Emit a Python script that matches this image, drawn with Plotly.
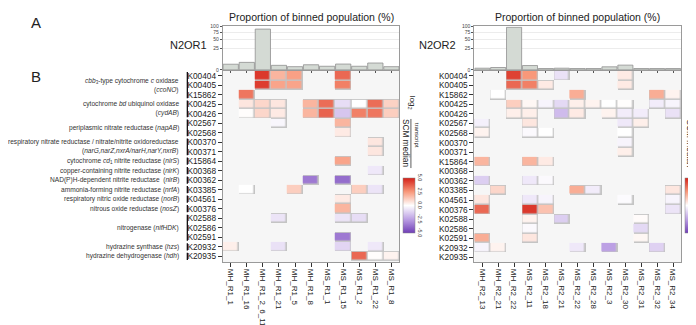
import numpy as np
import plotly.graph_objects as go

# ---------------- data ----------------
kos = ["K00404", "K00405", "K15862", "K00425", "K00426", "K02567", "K02568",
       "K00370", "K00371", "K15864", "K00368", "K00362", "K03385", "K04561",
       "K00376", "K02588", "K02586", "K02591", "K20932", "K20935"]

samples_r1 = ["MH_R1_1", "MH_R1_16", "MH_R1_2_6_11", "MH_R1_21", "MH_R1_5", "MH_R1_8",
              "MS_R1_1", "MS_R1_15", "MS_R1_2", "MS_R1_22", "MS_R1_8"]
samples_r2 = ["MH_R2_13", "MH_R2_21", "MH_R2_22", "MS_R2_11", "MS_R2_18", "MS_R2_21",
              "MS_R2_22", "MS_R2_28", "MS_R2_3", "MS_R2_30", "MS_R2_31", "MS_R2_32", "MS_R2_34"]

binned_r1 = [1.7, 3.0, 88.0, 1.1, 0.55, 1.4, 0.7, 1.8, 0.7, 2.5, 0.55]
binned_r2 = [0.15, 0.3, 96.0, 1.0, 0.1, 0.15, 0.1, 0.1, 0.5, 1.2, 0.1, 0.1, 0.1]

_ = None
# log2(transcript / SCM median), rows = kos, cols = samples_r1
expr_r1 = [
    [_, _, 4.5, 1.8, 2.3, _, _, 3.5, _, _, _],
    [_, _, 4.4, 2.2, 2.2, _, _, 3.0, _, _, _],
    [_, 3.2, _, _, _, _, _, _, _, _, _],
    [_, 0.6, 1.0, 0.6, _, 1.8, 3.4, -0.9, 0.0, 3.4, 1.1],
    [_, 0.05, 1.0, 0.5, _, 1.8, 3.6, -1.5, 3.0, 3.2, 1.2],
    [_, _, _, -0.25, _, _, _, 1.8, _, _, _],
    [_, _, _, _, _, _, _, 0.5, _, _, _],
    [_, _, _, _, _, _, _, _, _, 0.6, _],
    [_, _, _, _, _, _, _, _, _, 0.6, _],
    [_, _, _, _, _, _, _, 2.2, _, _, _],
    [_, _, _, _, _, _, _, _, _, -0.6, _],
    [_, _, _, _, _, -3.5, _, -3.8, _, _, _],
    [_, 0.0, _, _, 1.2, _, _, _, 1.2, -0.7, _],
    [_, _, _, _, _, _, _, 0.5, _, _, _],
    [_, _, _, _, _, _, _, 1.8, _, _, _],
    [_, _, _, -0.7, _, _, _, -0.7, -0.9, _, _],
    [_, _, _, _, _, _, _, _, _, _, _],
    [_, _, _, _, _, _, _, -3.5, _, _, _],
    [0.4, _, _, -0.8, _, _, _, -1.1, _, -0.6, _],
    [_, _, _, _, _, _, _, _, 3.5, 0.05, 0.3],
]
# rows = kos, cols = samples_r2
expr_r2 = [
    [_, _, 4.3, 2.5, _, -0.8, _, _, _, 0.5, _, _, _],
    [_, _, 3.5, 3.0, 0.5, _, _, _, _, 0.5, _, _, _],
    [_, 0.0, _, _, _, _, 2.0, _, _, _, _, 2.0, 0.3],
    [_, _, 1.2, 0.2, -0.3, -1.0, 0.4, 0.3, 0.0, 0.05, _, -0.5, -0.3],
    [_, _, 0.4, 0.4, _, -1.8, 0.5, _, 0.3, -0.5, -0.5, _, -0.8],
    [-0.4, _, _, 0.6, _, _, _, _, _, -0.6, 0.4, _, _],
    [0.3, _, _, -0.15, 0.0, _, _, _, _, 0.0, _, _, _],
    [_, _, _, _, _, _, _, _, _, -0.3, _, _, _],
    [_, _, _, _, _, _, _, _, _, 0.4, _, _, _],
    [1.8, _, _, 1.8, 0.5, _, _, _, _, _, _, _, _],
    [_, _, _, _, _, _, _, _, _, _, _, _, _],
    [-1.3, _, _, -0.6, -0.15, _, _, _, _, _, _, _, _],
    [_, 1.0, _, _, _, _, 2.0, -0.5, _, _, _, _, 0.6],
    [0.6, _, _, -0.6, -0.3, _, _, _, _, -0.1, _, _, -0.3],
    [3.5, _, _, 4.5, 1.5, _, _, _, _, _, _, _, -0.7],
    [_, _, _, 0.3, _, -1.3, _, _, _, _, 0.1, _, _],
    [_, _, _, -0.15, _, _, _, _, _, _, -1.0, _, _],
    [2.0, _, _, 0.6, _, _, _, _, _, _, 0.2, _, _],
    [-0.3, 0.3, _, _, _, _, -0.6, _, -2.5, _, _, -1.2, _],
    [_, _, _, _, _, _, _, _, _, _, _, _, _],
]

group_labels = [
    "<i>cbb</i><sub>3</sub>-type cytochrome <i>c</i> oxidase<br>(<i>ccoNO</i>)",
    "cytochrome <i>bd</i> ubiquinol oxidase<br>(<i>cydAB</i>)",
    "periplasmic nitrate reductase (<i>napAB</i>)",
    "respiratory nitrate reductase / nitrate/nitrite oxidoreductase<br>(<i>narG,narZ,nxrA/narH,narY,nxrB</i>)",
    "cytochrome <i>cd</i><sub>1</sub> nitrite reductase (<i>nirS</i>)",
    "copper-containing nitrite reductase (<i>nirK</i>)",
    "NAD(P)H-dependent nitrite reductase  (<i>nirB</i>)",
    "ammonia-forming nitrite reductase (<i>nrfA</i>)",
    "respiratory nitric oxide reductase (<i>norB</i>)",
    "nitrous oxide reductase (<i>nosZ</i>)",
    "nitrogenase (<i>nifHDK</i>)",
    "hydrazine synthase (<i>hzs</i>)",
    "hydrazine dehydrogenase (<i>hdh</i>)",
]
group_first = ["K00404", "K00425", "K02567", "K00370", "K15864", "K00368", "K00362",
               "K03385", "K04561", "K00376", "K02588", "K20932", "K20935"]
group_last = ["K15862", "K00426", "K02568", "K00371", "K15864", "K00368", "K00362",
              "K03385", "K04561", "K00376", "K02591", "K20932", "K20935"]

bar_ticks = [0, 25, 50, 75, 100]
cbar_ticks = [-5.0, -2.5, 0.0, 2.5, 5.0]

# ---------------- styling ----------------
W, H = 696, 325
FONT = "Liberation Sans, Arial, sans-serif"


def fx(p):
    return p / W


def fy(p):
    return 1 - p / H


colorscale = [
    [0.0, "rgb(112,62,182)"],
    [0.25, "rgb(188,160,228)"],
    [0.5, "rgb(255,255,255)"],
    [0.75, "rgb(248,152,122)"],
    [1.0, "rgb(212,32,24)"],
]
GRAY_EDGE = "#c4c4c4"
FRAME = "#9a9a9a"

fig = go.Figure()

panels = [
    dict(samples=samples_r1, binned=binned_r1, expr=expr_r1, x0=215, x1=392,
         bx="x", by="y", hx="x2", hy="y2", cbx=396),
    dict(samples=samples_r2, binned=binned_r2, expr=expr_r2, x0=467, x1=674,
         bx="x3", by="y3", hx="x4", hy="y4", cbx=678),
]

for p in panels:
    # bars on square-root scale
    fig.add_trace(go.Bar(
        x=p["samples"], y=np.sqrt(np.array(p["binned"], dtype=float)),
        xaxis=p["bx"], yaxis=p["by"],
        marker=dict(color="#d4dad4", line=dict(color="#8f8f8f", width=0.8)),
        showlegend=False, hoverinfo="skip"))
    z = p["expr"]
    zb = [[1 if v is not None else None for v in row] for row in z]
    fig.add_trace(go.Heatmap(
        x=p["samples"], y=kos, z=zb, xaxis=p["hx"], yaxis=p["hy"],
        colorscale=[[0, GRAY_EDGE], [1, GRAY_EDGE]], showscale=False,
        hoverinfo="skip"))
    fig.add_trace(go.Heatmap(
        x=p["samples"], y=kos, z=z, xaxis=p["hx"], yaxis=p["hy"],
        zmin=-5, zmax=5, colorscale=colorscale, xgap=1.5, ygap=1.5,
        hoverinfo="skip",
        colorbar=dict(
            x=fx(p["cbx"]), xanchor="left", xpad=0, ypad=0,
            y=fy(198.5), yanchor="middle", lenmode="pixels", len=55,
            thickness=12, outlinewidth=0.5, outlinecolor="#888",
            tickvals=cbar_ticks, ticktext=[f"{v:.1f}" for v in cbar_ticks],
            tickangle=90, ticks="", tickfont=dict(size=5.5, color="#444", family=FONT),
        )))

layout = dict(
    width=W, height=H, margin=dict(l=0, r=0, t=0, b=0),
    paper_bgcolor="white", plot_bgcolor="white", showlegend=False,
    bargap=0.05, font=dict(family=FONT, color="#222"),
)

for i, p in enumerate(panels):
    bxn = "xaxis" if i == 0 else "xaxis3"
    byn = "yaxis" if i == 0 else "yaxis3"
    hxn = "xaxis2" if i == 0 else "xaxis4"
    hyn = "yaxis2" if i == 0 else "yaxis4"
    dom_x = [fx(p["x0"]), fx(p["x1"])]
    layout[bxn] = dict(domain=dom_x, anchor=p["by"], type="category",
                       categoryorder="array", categoryarray=p["samples"],
                       tickmode="array", tickvals=p["samples"],
                       showticklabels=False, ticks="outside", ticklen=2,
                       tickcolor="#555", showline=True, mirror=True,
                       linecolor=FRAME, linewidth=1, showgrid=False)
    layout[byn] = dict(domain=[fy(60), fy(15.7)], anchor=p["bx"], range=[0, 10],
                       tickmode="array",
                       tickvals=list(np.sqrt(np.array(bar_ticks, dtype=float))),
                       ticktext=[str(t) for t in bar_ticks],
                       ticks="outside", ticklen=2, tickcolor="#555",
                       tickfont=dict(size=5, color="#444"),
                       showline=True, mirror=True, linecolor=FRAME, linewidth=1,
                       showgrid=True, gridcolor="#ececec", gridwidth=0.6,
                       zeroline=False)
    layout[hxn] = dict(domain=dom_x, anchor=p["hy"], type="category",
                       categoryorder="array", categoryarray=p["samples"],
                       tickmode="array", tickvals=p["samples"], ticktext=p["samples"],
                       tickangle=90, ticks="outside", ticklen=4, tickcolor="#333",
                       tickfont=dict(size=8, color="#222"),
                       showline=True, mirror=True, linecolor=FRAME, linewidth=1,
                       showgrid=False)
    layout[hyn] = dict(domain=[fy(256), fy(61)], anchor=p["hx"], type="category",
                       categoryorder="array", categoryarray=kos, autorange="reversed",
                       tickmode="array", tickvals=kos, ticktext=kos,
                       ticks="outside", ticklen=4, tickcolor="#333",
                       tickfont=dict(size=8.3, color="#222"),
                       showline=True, mirror=True, linecolor=FRAME, linewidth=1,
                       showgrid=False)

fig.update_layout(**layout)

shapes = []
# heatmap background
for hx, hy in [("x2", "y2"), ("x4", "y4")]:
    shapes.append(dict(type="rect", xref=f"{hx} domain", yref=f"{hy} domain",
                       x0=0, x1=1, y0=0, y1=1, fillcolor="#f6f6f6",
                       line=dict(width=0), layer="below"))
# group brackets
for g0, g1 in zip(group_first, group_last):
    i0, i1 = kos.index(g0), kos.index(g1)
    shapes.append(dict(type="line", xref="paper", yref="y2",
                       x0=fx(179.6), x1=fx(179.6), y0=i0 - 0.38, y1=i1 + 0.38,
                       line=dict(color="#111", width=1.3)))
# fraction bars of colourbar titles
for xc in [403.5, 687.5]:
    shapes.append(dict(type="line", xref="paper", yref="paper",
                       x0=fx(xc), x1=fx(xc), y0=fy(110), y1=fy(160),
                       line=dict(color="#333", width=0.8)))
fig.update_layout(shapes=shapes)

ann = []
for lab, g0, g1 in zip(group_labels, group_first, group_last):
    yc = (kos.index(g0) + kos.index(g1)) / 2
    ann.append(dict(text=lab, xref="paper", yref="y2", x=fx(173), y=yc,
                    xanchor="right", yanchor="middle", align="right",
                    showarrow=False, font=dict(size=6.6, color="#333")))


def txt(t, x, y, size, **kw):
    d = dict(text=t, xref="paper", yref="paper", x=fx(x), y=fy(y),
             xanchor="center", yanchor="middle", showarrow=False,
             font=dict(size=size, color="#222"))
    d.update(kw)
    return d


ann += [
    txt("A", 28, 12, 15),
    txt("B", 28.5, 67, 15),
    txt("N2OR1", 181, 35, 11),
    txt("N2OR2", 430, 35, 11),
    txt("Proportion of binned population (%)", 303.5, 6, 10.5),
    txt("Proportion of binned population (%)", 570.5, 6, 10.5),
    # colour bar titles (rotated)
    txt("log<sub>2</sub>", 404.5, 93.5, 8, textangle=90),
    txt("transcript", 409.5, 127, 6, textangle=90),
    txt("SCM median", 398.5, 134.5, 8.3, textangle=90),
    txt("log<sub>2</sub>", 687, 94, 8, textangle=90),
    txt("transcript", 692.5, 126, 6, textangle=90),
    txt("SCM median", 682.5, 134.5, 8.3, textangle=90),
]
fig.update_layout(annotations=ann)

fig.write_html("out.html")
